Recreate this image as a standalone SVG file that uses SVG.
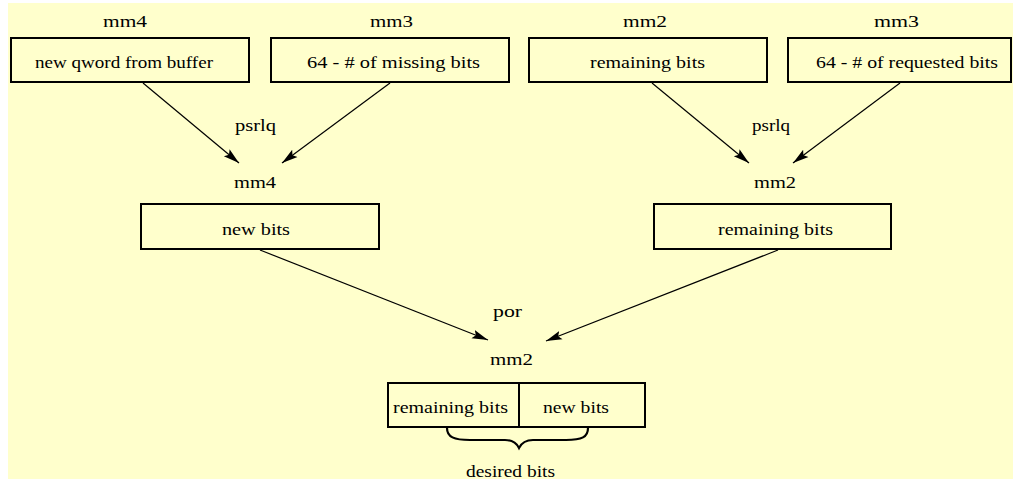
<svg xmlns="http://www.w3.org/2000/svg" width="1013" height="479" viewBox="0 0 1013 479">
<style>
.bg{fill:#FFFFCC}
.box{fill:none;stroke:#000;stroke-width:2}
.t{font-family:'Liberation Serif','DejaVu Serif','Times New Roman',serif;font-size:16px;fill:#000}
.edge{stroke:#000;stroke-width:1.2;fill:none}
.brace{stroke:#000;stroke-width:2.2;fill:none}
</style>
<defs>
<marker id="ah" markerUnits="userSpaceOnUse" markerWidth="17" markerHeight="12" refX="16" refY="6" orient="auto">
<path d="M0,1.5 L16,6 L0,10.5 L3,6 Z" fill="#000"/>
</marker>
</defs>
<rect width="1013" height="479" fill="#fff"/>
<rect class="bg" x="8" y="3" width="1005" height="476"/>

<g id="n1">
<text class="t" x="103" y="27" textLength="44" lengthAdjust="spacingAndGlyphs">mm4</text>
<rect class="box" x="11" y="38" width="238" height="44"/>
<text class="t" x="35" y="68" textLength="178" lengthAdjust="spacingAndGlyphs">new qword from buffer</text>
</g>
<g id="n2">
<text class="t" x="370" y="27" textLength="43" lengthAdjust="spacingAndGlyphs">mm3</text>
<rect class="box" x="271" y="38" width="238" height="44"/>
<text class="t" x="307" y="68" textLength="173" lengthAdjust="spacingAndGlyphs">64 - # of missing bits</text>
</g>
<g id="n3">
<text class="t" x="623" y="27" textLength="44" lengthAdjust="spacingAndGlyphs">mm2</text>
<rect class="box" x="529" y="38" width="238" height="44"/>
<text class="t" x="590" y="68" textLength="115" lengthAdjust="spacingAndGlyphs">remaining bits</text>
</g>
<g id="n4">
<text class="t" x="874" y="27" textLength="45" lengthAdjust="spacingAndGlyphs">mm3</text>
<rect class="box" x="788" y="38" width="223" height="44"/>
<text class="t" x="816" y="68" textLength="182" lengthAdjust="spacingAndGlyphs">64 - # of requested bits</text>
</g>
<g id="n5">
<text class="t" x="234" y="188" textLength="42" lengthAdjust="spacingAndGlyphs">mm4</text>
<rect class="box" x="141" y="204" width="238" height="45"/>
<text class="t" x="222" y="235" textLength="68" lengthAdjust="spacingAndGlyphs">new bits</text>
</g>
<g id="n6">
<text class="t" x="754" y="188" textLength="42" lengthAdjust="spacingAndGlyphs">mm2</text>
<rect class="box" x="654" y="204" width="237" height="45"/>
<text class="t" x="718" y="235" textLength="115" lengthAdjust="spacingAndGlyphs">remaining bits</text>
</g>
<g id="n7">
<text class="t" x="490" y="365" textLength="43" lengthAdjust="spacingAndGlyphs">mm2</text>
<rect class="box" x="388" y="383" width="257" height="44"/>
<line class="box" x1="519" y1="383" x2="519" y2="427"/>
<text class="t" x="393" y="413" textLength="115" lengthAdjust="spacingAndGlyphs">remaining bits</text>
<text class="t" x="543" y="413" textLength="66" lengthAdjust="spacingAndGlyphs">new bits</text>
<path class="brace" d="M447,428 C447,437 454,440 470,440 L505,440 C513,440 517,444 519,448 C521,444 525,440 533,440 L566,440 C582,440 588,437 588,428"/>
<text class="t" x="466" y="477" textLength="89" lengthAdjust="spacingAndGlyphs">desired bits</text>
</g>

<g id="connectors">
<line class="edge" x1="143" y1="83" x2="239" y2="163" marker-end="url(#ah)"/>
<line class="edge" x1="390" y1="83" x2="282" y2="163" marker-end="url(#ah)"/>
<line class="edge" x1="652" y1="83" x2="749" y2="163" marker-end="url(#ah)"/>
<line class="edge" x1="900" y1="83" x2="793" y2="163" marker-end="url(#ah)"/>
<line class="edge" x1="260" y1="250" x2="488" y2="340" marker-end="url(#ah)"/>
<line class="edge" x1="778" y1="250" x2="546" y2="341" marker-end="url(#ah)"/>
<text class="t" x="235" y="131" textLength="41" lengthAdjust="spacingAndGlyphs">psrlq</text>
<text class="t" x="752" y="131" textLength="38" lengthAdjust="spacingAndGlyphs">psrlq</text>
<text class="t" x="493" y="317" textLength="29" lengthAdjust="spacingAndGlyphs">por</text>
</g>
</svg>
